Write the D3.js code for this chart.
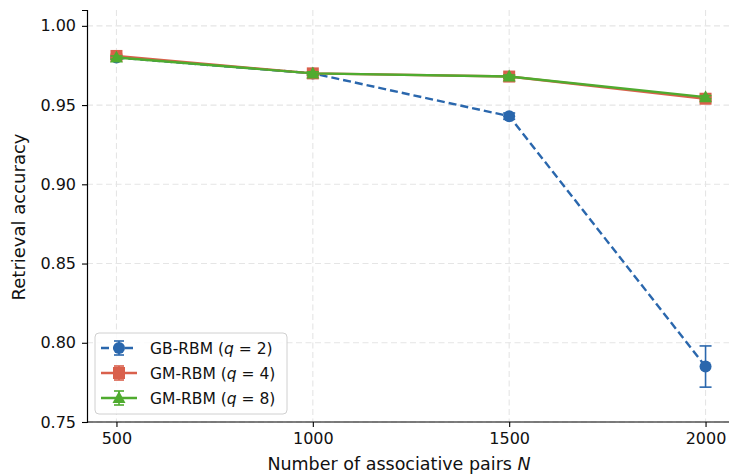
<!DOCTYPE html>
<html>
<head>
<meta charset="utf-8">
<script src="https://cdn.jsdelivr.net/npm/d3@7"></script>
<style>
  body { margin: 0; background: #fff; }
  svg { font-family: "DejaVu Sans", sans-serif; }
</style>
</head>
<body>
<script>
// data
var pairs = [500, 1000, 1500, 2000];
var gbRbm = [0.980, 0.970, 0.943, 0.785];
var gbErr = [0.001, 0.001, 0.002, 0.013];
var gmRbm4 = [0.981, 0.970, 0.968, 0.954];
var gm4Err = [0.001, 0.001, 0.001, 0.001];
var gmRbm8 = [0.980, 0.970, 0.968, 0.955];
var gm8Err = [0.001, 0.001, 0.001, 0.001];
var yTicks = [0.75, 0.80, 0.85, 0.90, 0.95, 1.00];

var width = 729, height = 476;
var margin = {top: 10, right: 0, bottom: 54, left: 87};
var w = width - margin.left - margin.right,
    h = height - margin.top - margin.bottom;

var series = [
   {name: "GB-RBM", q: 2, vals: gbRbm, err: gbErr, color: "#2a67ad", marker: "circle", dash: "8,4"},
   {name: "GM-RBM", q: 4, vals: gmRbm4, err: gm4Err, color: "#d9604c", marker: "square", dash: null},
   {name: "GM-RBM", q: 8, vals: gmRbm8, err: gm8Err, color: "#4fab2f", marker: "triangle", dash: null}
];

var x = d3.scaleLinear().domain([425, 2075]).range([0, 735 - margin.left]);
var y = d3.scaleLinear().domain([0.75, 1.01]).range([h, 0]);

var svg = d3.select("body").append("svg")
   .attr("width", width)
   .attr("height", height)
   .append("g")
   .attr("transform", "translate(" + margin.left + "," + margin.top + ")");

// grid
svg.append("g").selectAll("line").data(yTicks).enter().append("line")
   .attr("x1", 0).attr("x2", w)
   .attr("y1", function(d) { return y(d); }).attr("y2", function(d) { return y(d); })
   .attr("stroke", "#e5e5e5").attr("stroke-dasharray", "6,3.5").attr("stroke-width", 1.1);
svg.append("g").selectAll("line").data(pairs).enter().append("line")
   .attr("y1", 0).attr("y2", h)
   .attr("x1", function(d) { return x(d); }).attr("x2", function(d) { return x(d); })
   .attr("stroke", "#e5e5e5").attr("stroke-dasharray", "6,3.5").attr("stroke-width", 1.1);

// axes
var xAxis = svg.append("g")
   .attr("transform", "translate(0," + h + ")")
   .call(d3.axisBottom(x).tickValues(pairs).tickSize(5).tickPadding(6).tickFormat(d3.format("d")));
var yAxis = svg.append("g")
   .call(d3.axisLeft(y).tickValues(yTicks).tickSize(5).tickPadding(6).tickFormat(d3.format(".2f")));
[xAxis, yAxis].forEach(function(a) {
   a.select(".domain").attr("stroke", "#000").attr("stroke-width", 1.2);
   a.selectAll(".tick line").attr("stroke", "#000").attr("stroke-width", 1.1);
   a.selectAll("text").attr("font-size", 16).attr("fill", "#111").attr("font-family", "DejaVu Sans");
});
xAxis.select(".domain").attr("d", "M0,0H" + w);

function drawMarker(g, type, cx, cy, color) {
   if (type === "circle") {
      g.append("circle").attr("cx", cx).attr("cy", cy).attr("r", 6).attr("fill", color);
   } else if (type === "square") {
      g.append("rect").attr("x", cx - 6).attr("y", cy - 6).attr("width", 12).attr("height", 12).attr("fill", color);
   } else {
      g.append("path").attr("d", "M" + cx + "," + (cy - 7) + "L" + (cx + 6.5) + "," + (cy + 5) + "L" + (cx - 6.5) + "," + (cy + 5) + "Z")
         .attr("fill", color);
   }
}

var line = d3.line()
   .x(function(d, i) { return x(pairs[i]); })
   .y(function(d) { return y(d); });

series.forEach(function(s) {
   var g = svg.append("g");
   // error bars
   s.vals.forEach(function(v, i) {
      var cx = x(pairs[i]), lo = y(v - s.err[i]), hi = y(v + s.err[i]);
      g.append("line").attr("x1", cx).attr("x2", cx).attr("y1", lo).attr("y2", hi)
         .attr("stroke", s.color).attr("stroke-width", 1.6);
      [lo, hi].forEach(function(yy) {
         g.append("line").attr("x1", cx - 6).attr("x2", cx + 6).attr("y1", yy).attr("y2", yy)
            .attr("stroke", s.color).attr("stroke-width", 1.6);
      });
   });
   g.append("path").datum(s.vals)
      .attr("d", line)
      .attr("fill", "none")
      .attr("stroke", s.color)
      .attr("stroke-width", 2.4)
      .attr("stroke-dasharray", s.dash);
   s.vals.forEach(function(v, i) {
      drawMarker(g, s.marker, x(pairs[i]), y(v), s.color);
   });
});

// axis labels
svg.append("text")
   .attr("x", w / 2 - 9).attr("y", h + 48)
   .attr("text-anchor", "middle").attr("font-size", 17.5).attr("fill", "#111")
   .html('Number of associative pairs <tspan font-style="italic">N</tspan>');
svg.append("text")
   .attr("transform", "translate(" + (-62.5) + "," + (h / 2 + 1) + ") rotate(-90)")
   .attr("text-anchor", "middle").attr("font-size", 18).attr("fill", "#111")
   .text("Retrieval accuracy");

// legend
var leg = svg.append("g").attr("transform", "translate(8," + 323 + ")");
leg.append("rect").attr("width", 192).attr("height", 81).attr("rx", 4)
   .attr("fill", "#fff").attr("fill-opacity", 0.85).attr("stroke", "#d0d0d0");
series.forEach(function(s, i) {
   var ly = 15 + i * 25, lx = 24;
   var r = leg.append("g");
   r.append("line").attr("x1", 6).attr("x2", 42).attr("y1", ly).attr("y2", ly)
      .attr("stroke", s.color).attr("stroke-width", 2.4).attr("stroke-dasharray", s.dash);
   r.append("line").attr("x1", lx).attr("x2", lx).attr("y1", ly - 7).attr("y2", ly + 7)
      .attr("stroke", s.color).attr("stroke-width", 1.6);
   [ly - 7, ly + 7].forEach(function(yy) {
      r.append("line").attr("x1", lx - 5).attr("x2", lx + 5).attr("y1", yy).attr("y2", yy)
         .attr("stroke", s.color).attr("stroke-width", 1.6);
   });
   drawMarker(r, s.marker, lx, ly, s.color);
   r.append("text").attr("x", 55).attr("y", ly + 5.5).attr("font-size", 15.5).attr("fill", "#111")
      .html(s.name + ' (<tspan font-style="italic">q</tspan> = ' + s.q + ')');
});
</script>
</body>
</html>
